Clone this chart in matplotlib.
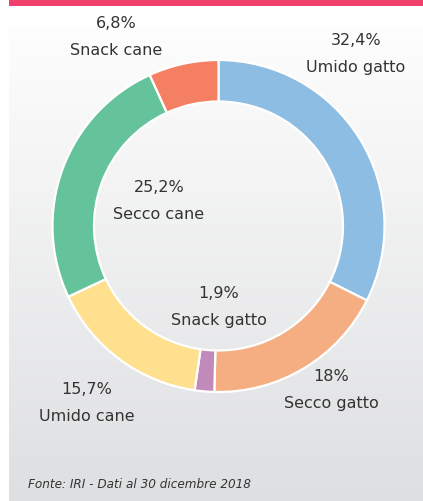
import matplotlib
matplotlib.use('Agg')
import matplotlib.pyplot as plt
import numpy as np

#%%
# Data (IRI, 30 dicembre 2018)
categorie = ['Umido gatto', 'Secco gatto', 'Snack gatto', 'Umido cane', 'Secco cane', 'Snack cane']
quote = [32.4, 18.0, 1.9, 15.7, 25.2, 6.8]
colori = ['#8dbde2', '#f4ae81', '#c28aba', '#fee08f', '#64c39b', '#f47f62']
fonte = 'Fonte: IRI - Dati al 30 dicembre 2018'

# label anchor points in pixels (x, y from top)
pos_label = [(356, 54), (331, 390), (219, 307), (87, 403), (159, 201), (116, 37)]

W, H = 423, 501
fig = plt.figure(figsize=(W / 100, H / 100), dpi=100)

#%%
# background: white page, pink strip on top, grey gradient panel
bg = fig.add_axes([0, 0, 1, 1])
bg.set_xlim(0, W)
bg.set_ylim(H, 0)
bg.axis('off')
grad = np.linspace(0, 1, 256).reshape(-1, 1)
top = np.array([0.995, 0.995, 0.995])
bot = np.array([0.871, 0.875, 0.882])
img = top + grad[..., None] * (bot - top)
bg.imshow(img, extent=[9, W, H, 26], aspect='auto', interpolation='bilinear')
bg.add_patch(plt.Rectangle((9, 0), W - 9, 6, color='#ef406e', lw=0))
bg.set_xlim(0, W)
bg.set_ylim(H, 0)

#%%
# donut
cx, cy, r = 218.5, 226, 166
ax = fig.add_axes([(cx - r) / W, (H - cy - r) / H, 2 * r / W, 2 * r / H])
ax.pie(quote, colors=colori, startangle=90, counterclock=False, radius=1,
       wedgeprops=dict(width=0.25, edgecolor='white', linewidth=1.6))
ax.set_xlim(-1, 1)
ax.set_ylim(-1, 1)
ax.axis('off')

#%%
# labels
for nome, v, (x, y) in zip(categorie, quote, pos_label):
    pct = f'{v:g}'.replace('.', ',') + '%'
    bg.text(x, y, pct + '\n' + nome, ha='center', va='center', fontsize=11.5,
            color='#333333', linespacing=1.95)

bg.text(28, 484, fonte, ha='left', va='center', fontsize=9.6, style='italic',
        color='#333333', fontstretch='condensed')

plt.savefig('out.png', dpi=100)
